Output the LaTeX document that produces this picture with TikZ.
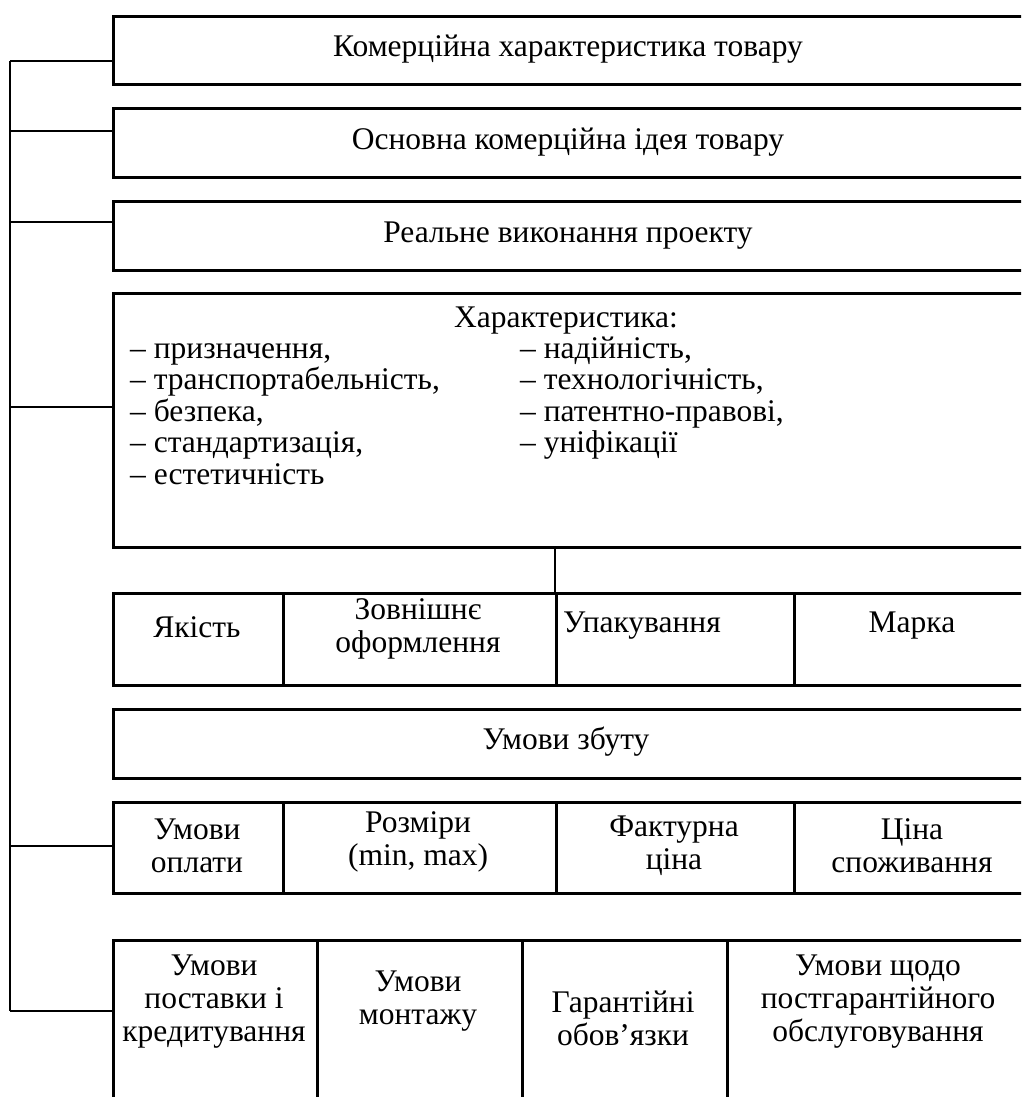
\documentclass[tikz,border=0pt]{standalone}
\usepackage{fontspec}
\setmainfont{Liberation Serif}
\begin{document}
\begin{tikzpicture}[x=1pt,y=-1pt,
  box/.style={draw, line width=2.6pt, rectangle, inner sep=0pt, anchor=north west},
  lbl/.style={align=center, inner sep=0pt, font=\fontsize{31.5}{33}\selectfont},
  ln/.style={inner sep=0pt, anchor=base west, font=\fontsize{31.5}{33}\selectfont},
  conn/.style={line width=1.4pt}]
\useasboundingbox (0,0) rectangle (1021,1097);
\clip (0,0) rectangle (1021,1097);
% main boxes
\node[box, minimum width=940, minimum height=68] (b1) at (112,15) {};
\node[box, minimum width=940, minimum height=69] (b2) at (112,107) {};
\node[box, minimum width=940, minimum height=69] (b3) at (112,200) {};
\node[box, minimum width=940, minimum height=254] (b4) at (112,292) {};
% row 5
\node[box, minimum width=170, minimum height=92] (q1) at (112,592) {};
\node[box, minimum width=273, minimum height=92] (q2) at (282,592) {};
\node[box, minimum width=238, minimum height=92] (q3) at (555,592) {};
\node[box, minimum width=259, minimum height=92] (q4) at (793,592) {};
% sales box
\node[box, minimum width=940, minimum height=69] (b6) at (112,708) {};
% row 7
\node[box, minimum width=170, minimum height=91] (p1) at (112,801) {};
\node[box, minimum width=273, minimum height=91] (p2) at (282,801) {};
\node[box, minimum width=238, minimum height=91] (p3) at (555,801) {};
\node[box, minimum width=259, minimum height=91] (p4) at (793,801) {};
% row 8
\node[box, minimum width=204, minimum height=180] (s1) at (112,939) {};
\node[box, minimum width=205, minimum height=180] (s2) at (316,939) {};
\node[box, minimum width=205, minimum height=180] (s3) at (521,939) {};
\node[box, minimum width=326, minimum height=180] (s4) at (726,939) {};
% texts
\node[lbl] (t1) at (568,49) {Комерційна характеристика товару};
\node[lbl] (t2) at (568,142) {Основна комерційна ідея товару};
\node[lbl] (t3) at (568,236) {Реальне виконання проекту};
\node[ln, anchor=base] (t4) at (566,327) {Характеристика:};
\node[ln] (l1) at (130,358) {– призначення,};
\node[ln] (l2) at (130,389.5) {– транспортабельність,};
\node[ln] (l3) at (130,421) {– безпека,};
\node[ln] (l4) at (130,452.5) {– стандартизація,};
\node[ln] (l5) at (130,484) {– естетичність};
\node[ln] (r1) at (520,358) {– надійність,};
\node[ln] (r2) at (520,389.5) {– технологічність,};
\node[ln] (r3) at (520,421) {– патентно-правові,};
\node[ln] (r4) at (520,452.5) {– уніфікації};
\node[lbl] (u1) at (197,627) {Якість};
\node[lbl] (u2) at (418,629) {Зовнішнє\\оформлення};
\node[ln] (u3) at (563,632) {Упакування};
\node[lbl] (u4) at (912,626) {Марка};
\node[lbl] (t6) at (566,742) {Умови збуту};
\node[lbl] (v1) at (197,846) {Умови\\оплати};
\node[lbl] (v2) at (418,842) {Розміри\\(min, max)};
\node[lbl] (v3) at (674,846) {Фактурна\\ціна};
\node[lbl] (v4) at (912,846) {Ціна\\споживання};
\node[lbl] (w1) at (214,1002) {Умови\\поставки і\\кредитування};
\node[lbl] (w2) at (418,1001) {Умови\\монтажу};
\node[lbl] (w3) at (623,1018) {Гарантійні\\обов’язки};
\node[lbl] (w4) at (878,1002) {Умови щодо\\постгарантійного\\обслуговування};
% connectors
\coordinate (top) at (10,61);
\coordinate (bot) at (10,1011);
\draw[conn] (top) -- (bot);
\draw[conn] (top) -- (top -| b1.west);
\draw[conn] (10,131) -- (b2.west |- 0,131);
\draw[conn] (10,222) -- (b3.west |- 0,222);
\draw[conn] (10,407) -- (b4.west |- 0,407);
\draw[conn] (10,846) -- (p1.west |- 0,846);
\draw[conn] (bot) -- (bot -| s1.west);
\draw[conn] (b4.south -| q3.west) -- (q3.north west);
\end{tikzpicture}
\end{document}
